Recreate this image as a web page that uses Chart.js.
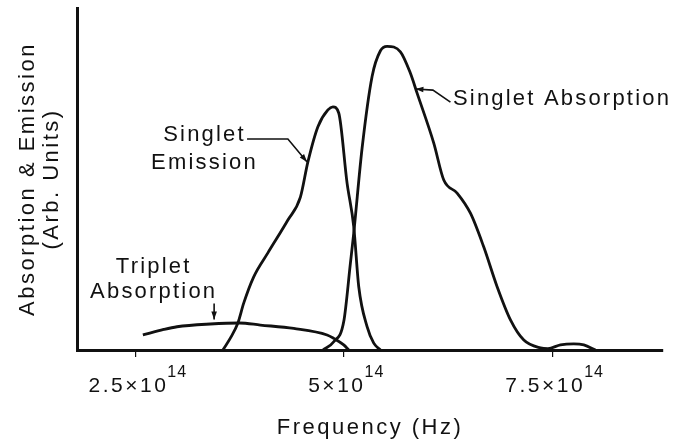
<!DOCTYPE html>
<html>
<head>
<meta charset="utf-8">
<script src="https://cdn.jsdelivr.net/npm/chart.js@4.4.1/dist/chart.umd.min.js"></script>
<style>
  html, body { margin: 0; padding: 0; background: #fff; }
  #wrap { width: 675px; height: 442px; }
</style>
</head>
<body>
<div id="wrap"><canvas id="chart" width="675" height="442"></canvas></div>
<script>
// frequency in units of 1e14 Hz, intensity in arbitrary units
var tickValues = [2.5, 5, 7.5];
var tickBase = ['2.5\u00d710', '5\u00d710', '7.5\u00d710'];
var tickExp = '14';

var tripletX = [2.59, 2.84, 3.00, 3.40, 3.75, 4.00, 4.40, 4.80, 4.88, 5.00, 5.06];
var tripletY = [4.4, 6.0, 6.8, 7.6, 7.9, 7.3, 6.3, 4.4, 3.4, 1.5, 0];

var emissionX = [3.55, 3.65, 3.73, 3.80, 3.92, 4.09, 4.33, 4.48, 4.57, 4.69, 4.81, 4.87, 4.94, 5.04, 5.12, 5.18, 5.28, 5.36, 5.44];
var emissionY = [0, 3.9, 7.9, 13.7, 21.4, 28.4, 38.0, 44.7, 55.0, 65.3, 70.2, 71.1, 69.3, 48.8, 36.1, 18.5, 6.8, 2.0, 0];

var absorptionX = [4.75, 4.88, 5.00, 5.08, 5.12, 5.22, 5.34, 5.44, 5.52, 5.68, 5.80, 5.88, 6.08, 6.20, 6.36, 6.52, 6.68, 6.84, 7.00, 7.16, 7.36, 7.45, 7.60, 7.76, 7.88, 8.02];
var absorptionY = [0, 2.4, 8.3, 25.4, 34.2, 59.0, 80.0, 87.5, 88.8, 87.2, 80.9, 75.1, 60.5, 49.7, 45.9, 40.0, 30.1, 18.5, 8.8, 2.9, 0.6, 0.4, 1.5, 1.8, 1.5, 0];

// curve labels and their arrows (data units)
var notes = [
    { lines: ['Singlet Absorption'], x: 6.31, y: [71.6], align: 'left' },
    { lines: ['Singlet', 'Emission'], x: 3.33, y: [61.1, 52.9], align: 'center' },
    { lines: ['Triplet', 'Absorption'], x: 2.72, y: [22.4, 15.1], align: 'center' }
];
var arrows = [
    [[6.28, 72.5], [6.07, 76.0], [5.86, 76.3]],
    [[3.84, 61.7], [4.33, 61.7], [4.56, 55.0]],
    [[3.445, 13.6], [3.445, 8.9]]
];

var FONT = '"Liberation Sans", Arial, Helvetica, sans-serif';

function toPoints(xs, ys) {
    return xs.map(function (x, i) { return { x: x, y: ys[i] }; });
}

function curve(data) {
    return {
        data: data,
        borderColor: '#111',
        borderWidth: 2.8,
        pointRadius: 0,
        fill: false,
        cubicInterpolationMode: 'monotone',
        clip: 6
    };
}

var spacingPlugin = {
    id: 'spacing',
    beforeDraw: function (chart) {
        chart.ctx.letterSpacing = '2.5px';
    }
};

var notesPlugin = {
    id: 'notes',
    afterDraw: function (chart) {
        var ctx = chart.ctx;
        var xs = chart.scales.x, ys = chart.scales.y;
        ctx.save();
        ctx.fillStyle = '#111';
        ctx.strokeStyle = '#111';

        // tick labels with superscript exponent
        tickValues.forEach(function (v, i) {
            var px = xs.getPixelForValue(v);
            ctx.font = '21px ' + FONT;
            ctx.letterSpacing = '2.5px';
            var wb = ctx.measureText(tickBase[i]).width;
            ctx.font = '16px ' + FONT;
            ctx.letterSpacing = '1px';
            var we = ctx.measureText(tickExp).width;
            var start = px + 3 - (wb + we) / 2;
            ctx.textAlign = 'left';
            ctx.textBaseline = 'alphabetic';
            ctx.font = '21px ' + FONT;
            ctx.letterSpacing = '2.5px';
            ctx.fillText(tickBase[i], start, 392);
            ctx.font = '16px ' + FONT;
            ctx.letterSpacing = '1px';
            ctx.fillText(tickExp, start + wb - 1, 377);
        });

        // curve labels
        ctx.font = '22px ' + FONT;
        ctx.letterSpacing = '2.2px';
        ctx.textBaseline = 'alphabetic';
        notes.forEach(function (n) {
            ctx.textAlign = n.align;
            n.lines.forEach(function (t, j) {
                ctx.fillText(t, xs.getPixelForValue(n.x), ys.getPixelForValue(n.y[j]));
            });
        });

        // arrows
        ctx.lineWidth = 1.6;
        arrows.forEach(function (a) {
            var pts = a.map(function (p) { return [xs.getPixelForValue(p[0]), ys.getPixelForValue(p[1])]; });
            ctx.beginPath();
            ctx.moveTo(pts[0][0], pts[0][1]);
            for (var k = 1; k < pts.length; k++) ctx.lineTo(pts[k][0], pts[k][1]);
            ctx.stroke();
            var tip = pts[pts.length - 1], prev = pts[pts.length - 2];
            var ang = Math.atan2(tip[1] - prev[1], tip[0] - prev[0]);
            ctx.beginPath();
            ctx.moveTo(tip[0], tip[1]);
            ctx.lineTo(tip[0] - 8 * Math.cos(ang) + 2.8 * Math.sin(ang), tip[1] - 8 * Math.sin(ang) - 2.8 * Math.cos(ang));
            ctx.lineTo(tip[0] - 8 * Math.cos(ang) - 2.8 * Math.sin(ang), tip[1] - 8 * Math.sin(ang) + 2.8 * Math.cos(ang));
            ctx.closePath();
            ctx.fill();
        });
        ctx.restore();
    }
};

var ctx = document.getElementById('chart').getContext('2d');

var myChart = new Chart(ctx, {
    type: 'line',
    data: {
        datasets: [
            curve(toPoints(tripletX, tripletY)),
            curve(toPoints(emissionX, emissionY)),
            curve(toPoints(absorptionX, absorptionY))
        ]
    },
    options: {
        responsive: false,
        devicePixelRatio: 1,
        animation: false,
        layout: { padding: { top: 8, right: 12, left: 0, bottom: 0 } },
        plugins: { legend: { display: false }, tooltip: { enabled: false } },
        scales: {
            x: {
                type: 'linear',
                min: 1.8,
                max: 8.83,
                afterFit: function (s) { s.height = 92; },
                afterBuildTicks: function (s) {
                    s.ticks = tickValues.map(function (v) { return { value: v }; });
                },
                border: { display: true, color: '#111', width: 3 },
                grid: { display: true, drawOnChartArea: false, drawTicks: true, tickLength: 7, tickColor: '#111', lineWidth: 1.2 },
                ticks: { display: false },
                title: {
                    display: true,
                    text: 'Frequency (Hz)',
                    color: '#111',
                    font: { family: FONT, size: 22, lineHeight: 1.1 },
                    padding: { top: 0, bottom: 2 }
                }
            },
            y: {
                min: 0,
                max: 100,
                afterFit: function (s) { s.width = 77; },
                border: { display: true, color: '#111', width: 3 },
                grid: { display: false },
                ticks: { display: false },
                title: {
                    display: true,
                    text: ['Absorption & Emission', '(Arb. Units)'],
                    color: '#111',
                    font: { family: FONT, size: 22, lineHeight: 1.1 },
                    padding: { top: 16, bottom: 0 }
                }
            }
        }
    },
    plugins: [spacingPlugin, notesPlugin]
});
</script>
</body>
</html>
